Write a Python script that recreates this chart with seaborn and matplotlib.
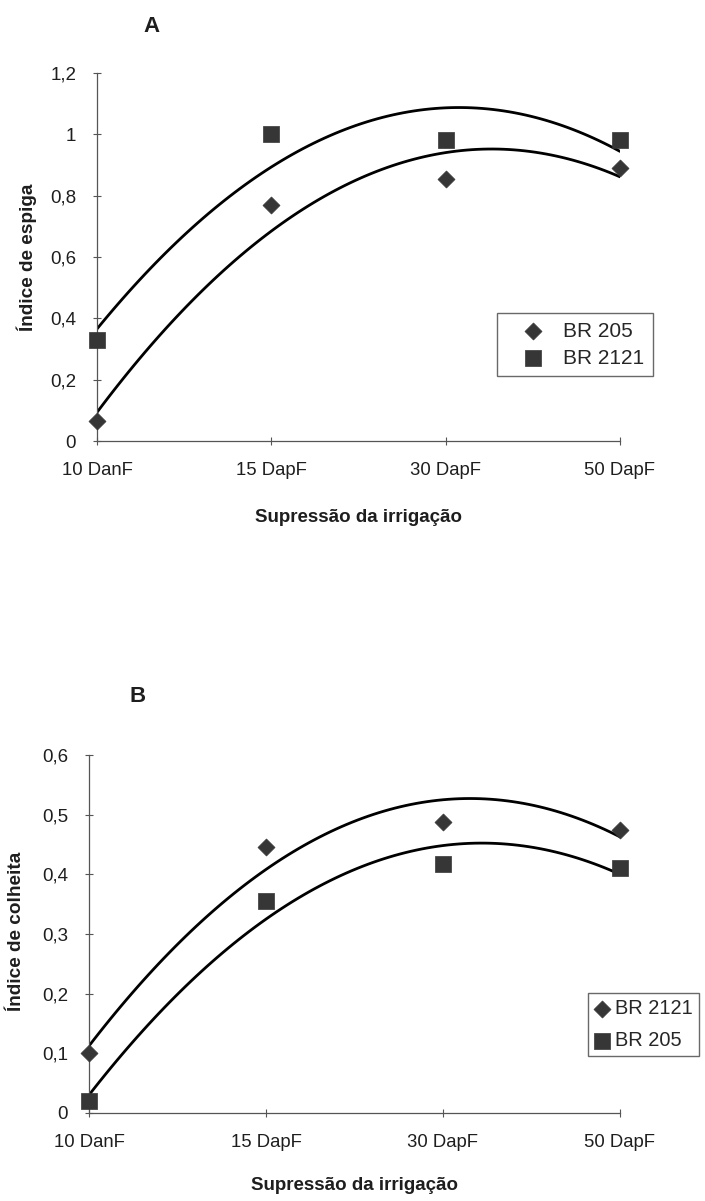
import numpy as np
import pandas as pd
import matplotlib
matplotlib.use("Agg")
import matplotlib.pyplot as plt
import seaborn as sns

# ---- data ----
categories = ["10 DanF", "15 DapF", "30 DapF", "50 DapF"]
xpos = [0, 1, 2, 3]

# Panel A: Índice de espiga
a_br205 = [0.065, 0.77, 0.855, 0.89]
a_br2121 = [0.33, 1.00, 0.98, 0.98]
a_yticks = [0, 0.2, 0.4, 0.6, 0.8, 1.0, 1.2]
a_yticklabels = ["0", "0,2", "0,4", "0,6", "0,8", "1", "1,2"]

# Panel B: Índice de colheita
b_br2121 = [0.10, 0.445, 0.488, 0.475]
b_br205 = [0.02, 0.355, 0.418, 0.41]
b_yticks = [0, 0.1, 0.2, 0.3, 0.4, 0.5, 0.6]
b_yticklabels = ["0", "0,1", "0,2", "0,3", "0,4", "0,5", "0,6"]

sns.set_theme(style="white")
plt.rcParams["font.family"] = ["Liberation Sans", "DejaVu Sans"]

MK = "#363636"
AX = "#555555"
TXT = "#1e1e1e"

fig = plt.figure(figsize=(7.05, 12.01), dpi=100)
axA = fig.add_axes([0.1376, 0.6328, 0.7418, 0.3064])
axB = fig.add_axes([0.1262, 0.0733, 0.7532, 0.2981])


def panel(ax, series, yticks, yticklabels, ylim, ylabel, xpad):
    for vals, marker, size, label in series:
        sns.regplot(x=np.array(xpos, float), y=np.array(vals), order=2, ci=None,
                    scatter=False, truncate=True, ax=ax,
                    line_kws=dict(color="black", lw=2.0))
        sns.scatterplot(x=xpos, y=vals, marker=marker, s=size, color=MK,
                        edgecolor=MK, linewidth=0.5, ax=ax, label=label,
                        clip_on=False, zorder=5)
    ax.set_xlim(0, 3)
    ax.set_ylim(*ylim)
    ax.set_xticks(xpos)
    ax.set_xticklabels(categories, fontsize=13.3, color=TXT)
    ax.set_yticks(yticks)
    ax.set_yticklabels(yticklabels, fontsize=13.5, color=TXT)
    ax.tick_params(axis="both", direction="inout", length=6, width=0.8,
                   color=AX, left=True, bottom=True)
    ax.tick_params(axis="x", pad=12)
    ax.tick_params(axis="y", pad=12)
    for s in ["top", "right"]:
        ax.spines[s].set_visible(False)
    for s in ["left", "bottom"]:
        ax.spines[s].set_color(AX)
        ax.spines[s].set_linewidth(0.9)
    ax.set_xlabel("Supressão da irrigação", fontsize=13.5, fontweight="bold",
                  labelpad=xpad, color=TXT)
    ax.set_ylabel(ylabel, fontsize=13.7, fontweight="bold", color=TXT)
    ax.set_facecolor("white")


panel(axA, [(a_br205, "D", 75, "BR 205"), (a_br2121, "s", 120, "BR 2121")],
      a_yticks, a_yticklabels, (0, 1.2), "Índice de espiga", 22)
panel(axB, [(b_br2121, "D", 75, "BR 2121"), (b_br205, "s", 120, "BR 205")],
      b_yticks, b_yticklabels, (0, 0.6), "Índice de colheita", 19)

axA.yaxis.set_label_coords(-0.134, 0.5)
axB.yaxis.set_label_coords(-0.136, 0.508)
axA.yaxis.label.set_va("center")
axB.yaxis.label.set_va("center")

legA = axA.legend(loc="upper left", bbox_to_anchor=(0.705, 0.7394),
                  bbox_transform=fig.transFigure, borderaxespad=0,
                  fancybox=False, frameon=True, edgecolor="#444444",
                  fontsize=15, handletextpad=0.17, borderpad=0.41,
                  labelspacing=0.4, handlelength=2.6)
legA.get_frame().set_linewidth(1.0)

legB = axB.legend(loc="upper left", bbox_to_anchor=(0.834, 0.1732),
                  bbox_transform=fig.transFigure, borderaxespad=0,
                  fancybox=False, frameon=True, edgecolor="#444444",
                  fontsize=14.4, handletextpad=0.25, borderpad=0.3,
                  labelspacing=0.65, handlelength=0.8)
legB.get_frame().set_linewidth(1.0)

fig.text(152 / 705, 1 - 27 / 1201, "A", fontsize=16, fontweight="bold",
         ha="center", va="center", color=TXT)
fig.text(138 / 705, 1 - 697 / 1201, "B", fontsize=16, fontweight="bold",
         ha="center", va="center", color=TXT)

fig.savefig("out.png", dpi=100, facecolor="white")
